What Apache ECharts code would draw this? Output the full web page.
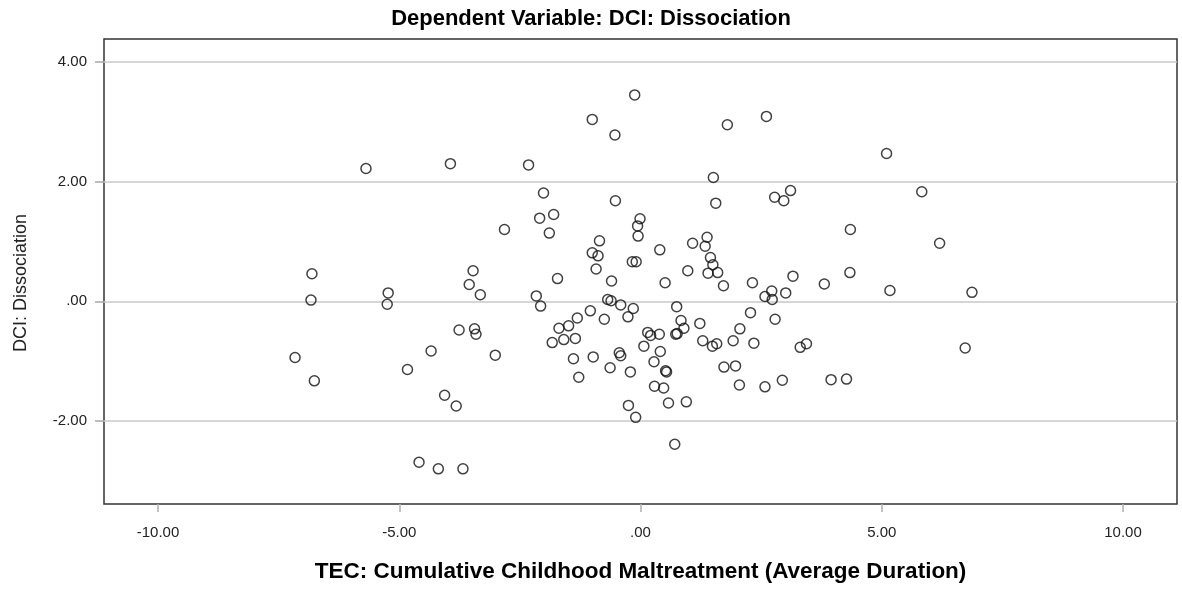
<!DOCTYPE html>
<html>
<head>
<meta charset="utf-8">
<script src="https://cdn.jsdelivr.net/npm/echarts@6/dist/echarts.min.js"></script>
<style>
html,body{margin:0;padding:0;background:#fff;}
#chart{width:1182px;height:592px;}
</style>
</head>
<body>
<div id="chart"></div>
<script>
// TEC: Cumulative Childhood Maltreatment (Average Duration)
const tecValues = [
  -5.69, -3.94, -6.81, -6.83, -5.23, -5.25, -3.47, -3.55, -3.32, -7.16,
  -6.76, -4.83, -4.34, -3.76, -3.44, -3.41, -4.06, -3.82, -4.59, -4.19,
  -3.68, -0.12, -1.00, -0.53, -2.32, -2.01, -0.52, -2.09, -1.80, -2.82,
  -1.89, -0.01, -0.06, -0.05, -0.85, -1.00, -0.88, -0.92, -0.17, -0.09,
  -1.72, -0.60, -2.16, -2.07, -0.68, -0.61, -0.41, -0.15, -0.26, -1.04,
  -0.75, -1.31, -1.49, -1.69, -1.59, -1.35, -1.83, -3.01, -1.39, -0.98,
  -0.44, -0.41, -0.63, -0.21, -1.28, 0.07, 0.15, -0.25, -0.10, 0.71,
  1.80, 2.61, 1.51, 1.56, 2.78, 2.97, 3.11, 0.40, 1.08, 1.38,
  1.34, 1.45, 1.50, 1.40, 1.60, 0.98, 0.51, 1.72, 2.32, 3.16,
  2.72, 2.58, 2.73, 3.01, 0.75, 2.28, 2.79, 0.84, 1.23, 0.90,
  0.76, 0.73, 0.21, 0.39, 0.41, 0.28, 0.52, 0.54, 0.29, 0.48,
  0.58, 0.95, 1.29, 1.49, 1.58, 2.06, 1.92, 2.35, 1.73, 1.97,
  2.05, 2.58, 2.94, 3.31, 3.44, 5.10, 5.83, 4.35, 6.20, 4.34,
  3.81, 5.17, 6.87, 3.95, 4.27, 6.73
];
// DCI: Dissociation
const dciValues = [
  2.22, 2.30, 0.46, 0.02, 0.14, -0.05, 0.51, 0.28, 0.11, -0.94,
  -1.33, -1.14, -0.83, -0.48, -0.46, -0.55, -1.57, -1.75, -2.69, -2.80,
  -2.80, 3.45, 3.04, 2.78, 2.28, 1.81, 1.68, 1.39, 1.45, 1.20,
  1.14, 1.38, 1.26, 1.09, 1.01, 0.81, 0.76, 0.54, 0.66, 0.66,
  0.38, 0.34, 0.09, -0.08, 0.03, 0.01, -0.06, -0.12, -0.26, -0.16,
  -0.30, -0.28, -0.41, -0.45, -0.64, -0.62, -0.69, -0.90, -0.96, -0.93,
  -0.86, -0.91, -1.11, -1.18, -1.27, -0.75, -0.52, -1.74, -1.94, -2.39,
  2.95, 3.09, 2.07, 1.64, 1.74, 1.68, 1.85, 0.86, 0.97, 1.07,
  0.92, 0.73, 0.61, 0.47, 0.48, 0.51, 0.31, 0.26, 0.31, 0.42,
  0.17, 0.08, 0.03, 0.14, -0.09, -0.19, -0.30, -0.32, -0.37, -0.45,
  -0.54, -0.55, -0.57, -0.55, -0.84, -1.01, -1.16, -1.18, -1.42, -1.45,
  -1.70, -1.68, -0.66, -0.75, -0.71, -0.46, -0.66, -0.70, -1.10, -1.08,
  -1.40, -1.43, -1.32, -0.77, -0.71, 2.47, 1.83, 1.20, 0.97, 0.48,
  0.29, 0.18, 0.15, -1.31, -1.30, -0.78
];
const xTickValues = [-10, -5, 0, 5, 10];
const yTickValues = [-2, 0, 2, 4];

const titleText = 'Dependent Variable: DCI: Dissociation';
const xAxisTitle = 'TEC: Cumulative Childhood Maltreatment (Average Duration)';
const yAxisTitle = 'DCI: Dissociation';

function fmt(v) {
  if (Math.abs(v) < 1e-9) return '.00';
  return v.toFixed(2);
}

const points = tecValues.map((x, i) => [x, dciValues[i]]);
const FONT = '"Liberation Sans", Arial, sans-serif';

const chart = echarts.init(document.getElementById('chart'), null, {renderer: 'canvas'});
chart.setOption({
  animation: false,
  backgroundColor: '#ffffff',
  title: {
    text: titleText,
    left: 'center',
    top: 8,
    padding: 0,
    textStyle: {fontFamily: FONT, fontSize: 22, fontWeight: 'bold', color: '#000'}
  },
  graphic: [{
    type: 'text',
    x: 21,
    y: 283,
    rotation: Math.PI / 2,
    style: {
      text: yAxisTitle,
      fontFamily: FONT,
      fontSize: 18,
      fill: '#222',
      align: 'center',
      verticalAlign: 'middle'
    }
  }],
  grid: {
    left: 104, right: 5, top: 39, bottom: 88,
    show: true, borderColor: '#333', borderWidth: 1.5, backgroundColor: 'transparent'
  },
  xAxis: {
    type: 'value',
    min: -11.12, max: 11.12,
    name: xAxisTitle,
    nameLocation: 'middle',
    nameGap: 56,
    nameTextStyle: {fontFamily: FONT, fontSize: 22.5, fontWeight: 'bold', color: '#000'},
    axisLine: {show: false, onZero: false},
    axisTick: {show: true, customValues: xTickValues, length: 8, lineStyle: {color: '#b0b0b0', width: 1.5}},
    axisLabel: {customValues: xTickValues, formatter: fmt, fontFamily: FONT, fontSize: 15, color: '#222', margin: 21},
    splitLine: {show: false}
  },
  yAxis: {
    type: 'value',
    min: -3.388, max: 4.384,
    axisLine: {show: false, onZero: false},
    axisTick: {show: true, inside: false, customValues: yTickValues, length: 9, lineStyle: {color: '#a8a8a8', width: 1.5}},
    axisLabel: {customValues: yTickValues, formatter: fmt, fontFamily: FONT, fontSize: 15, color: '#222', margin: 17},
    splitLine: {show: true, lineStyle: {color: '#c8c8c8', width: 1.5}}
  },
  series: [{
    type: 'scatter',
    data: points,
    symbol: 'circle',
    symbolSize: 10,
    itemStyle: {color: 'rgba(255,255,255,0)', borderColor: '#111', borderWidth: 1.5},
    emphasis: {disabled: true}
  }]
});
</script>
</body>
</html>
